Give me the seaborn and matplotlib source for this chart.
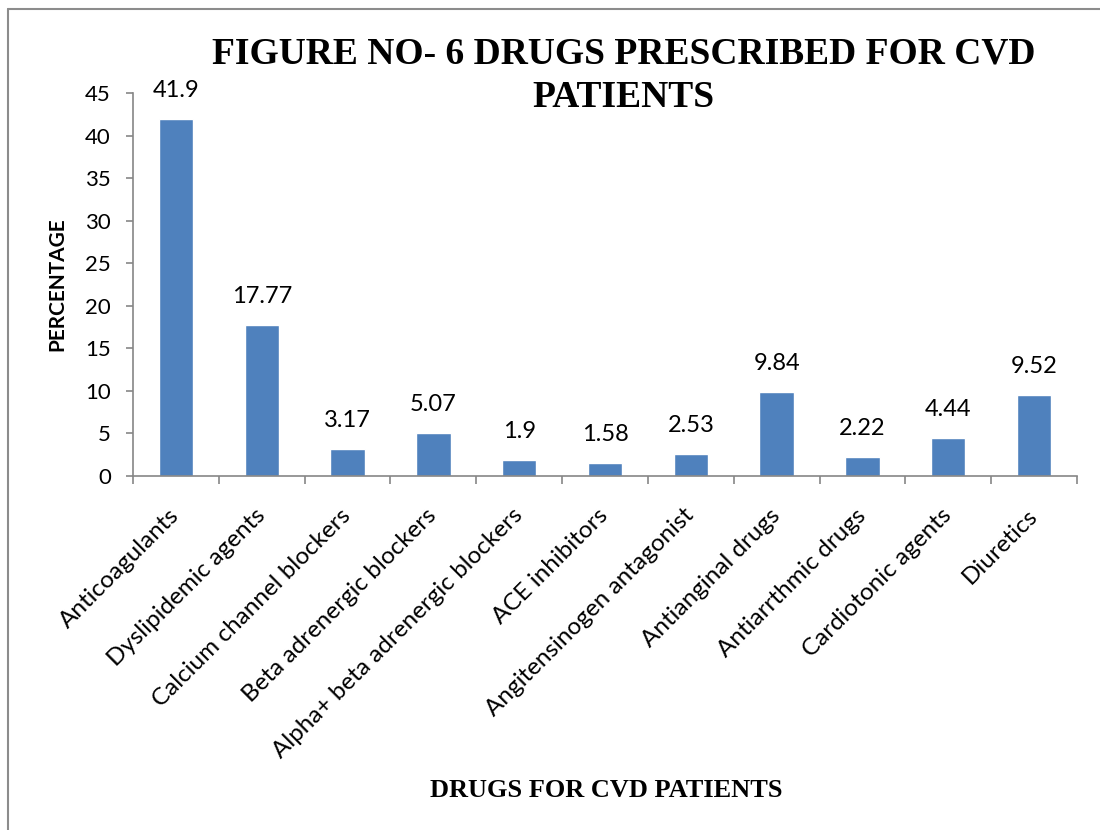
import matplotlib
matplotlib.use("Agg")
import matplotlib.pyplot as plt
from matplotlib.lines import Line2D
import numpy as np
import pandas as pd
import seaborn as sns

categories = [
    "Anticoagulants", "Dyslipidemic agents", "Calcium channel blockers",
    "Beta adrenergic blockers", "Alpha+ beta adrenergic blockers",
    "ACE inhibitors", "Angitensinogen antagonist", "Antianginal drugs",
    "Antiarrthmic drugs", "Cardiotonic agents", "Diuretics",
]
percentages = [41.9, 17.77, 3.17, 5.07, 1.9, 1.58, 2.53, 9.84, 2.22, 4.44, 9.52]
value_labels = ["41.9", "17.77", "3.17", "5.07", "1.9", "1.58", "2.53",
                "9.84", "2.22", "4.44", "9.52"]
y_ticks = [0, 5, 10, 15, 20, 25, 30, 35, 40, 45]

sns.set_theme(style="white")
plt.rcParams["font.family"] = ["Lato", "DejaVu Sans"]
plt.rcParams["text.color"] = "black"
plt.rcParams["xtick.color"] = "black"
plt.rcParams["ytick.color"] = "black"

df = pd.DataFrame({"drug": categories, "pct": percentages})

fig = plt.figure(figsize=(11, 8.3), dpi=100)
ax = fig.add_axes([0.1209, 0.4265, 0.8582, 0.4615])

sns.barplot(data=df, x="drug", y="pct", color="#4F81BD", width=0.4,
            saturation=1, ax=ax)

axis_grey = "#868686"
ax.set_xlim(-0.5, len(categories) - 0.5)
ax.set_ylim(0, 45)
ax.set_yticks(y_ticks)
ax.tick_params(axis="y", labelsize=16, length=5, width=1.2, color=axis_grey,
               labelcolor="black", direction="out", left=True, pad=11)
ax.set_xticks(range(len(categories)))
ax.set_xticklabels(categories, rotation=45, ha="right", va="center",
                   rotation_mode="anchor", fontsize=17.5, color="black")
ax.tick_params(axis="x", length=0, pad=26)
ax.set_xticks(np.arange(-0.5, len(categories)), minor=True)
ax.tick_params(axis="x", which="minor", length=6, width=1.2,
               color=axis_grey, direction="out", bottom=True)

for side in ("top", "right"):
    ax.spines[side].set_visible(False)
for side in ("left", "bottom"):
    ax.spines[side].set_color(axis_grey)
    ax.spines[side].set_linewidth(1.2)

for i, (v, lab) in enumerate(zip(percentages, value_labels)):
    ax.annotate(lab, (i, v), xytext=(0, 13), textcoords="offset points",
                ha="center", va="bottom", fontsize=17, color="black")

ax.set_xlabel("")
ax.set_ylabel("")
fig.text(57 / 1100, 0.658, "PERCENTAGE", rotation=90, ha="center",
         va="center", fontsize=15, fontweight="bold", color="black")

fig.text(0.567, 0.924, "FIGURE NO- 6 DRUGS PRESCRIBED FOR CVD",
         ha="center", va="baseline", fontsize=27, fontweight="bold",
         family="Liberation Serif", color="black")
fig.text(0.567, 0.871, "PATIENTS",
         ha="center", va="baseline", fontsize=27, fontweight="bold",
         family="Liberation Serif", color="black")
fig.text(0.551, 0.040, "DRUGS FOR CVD PATIENTS", ha="center", va="baseline",
         fontsize=19, fontweight="bold", family="Liberation Serif",
         color="black")

# chart frame edges
fig.add_artist(Line2D([0.0075, 0.0075], [0.0, 0.989], color="#8c8c8c",
                      lw=1.5, transform=fig.transFigure))
fig.add_artist(Line2D([0.0075, 1.0], [0.989, 0.989], color="#8c8c8c",
                      lw=1.5, transform=fig.transFigure))

fig.savefig("out.png", dpi=100)
